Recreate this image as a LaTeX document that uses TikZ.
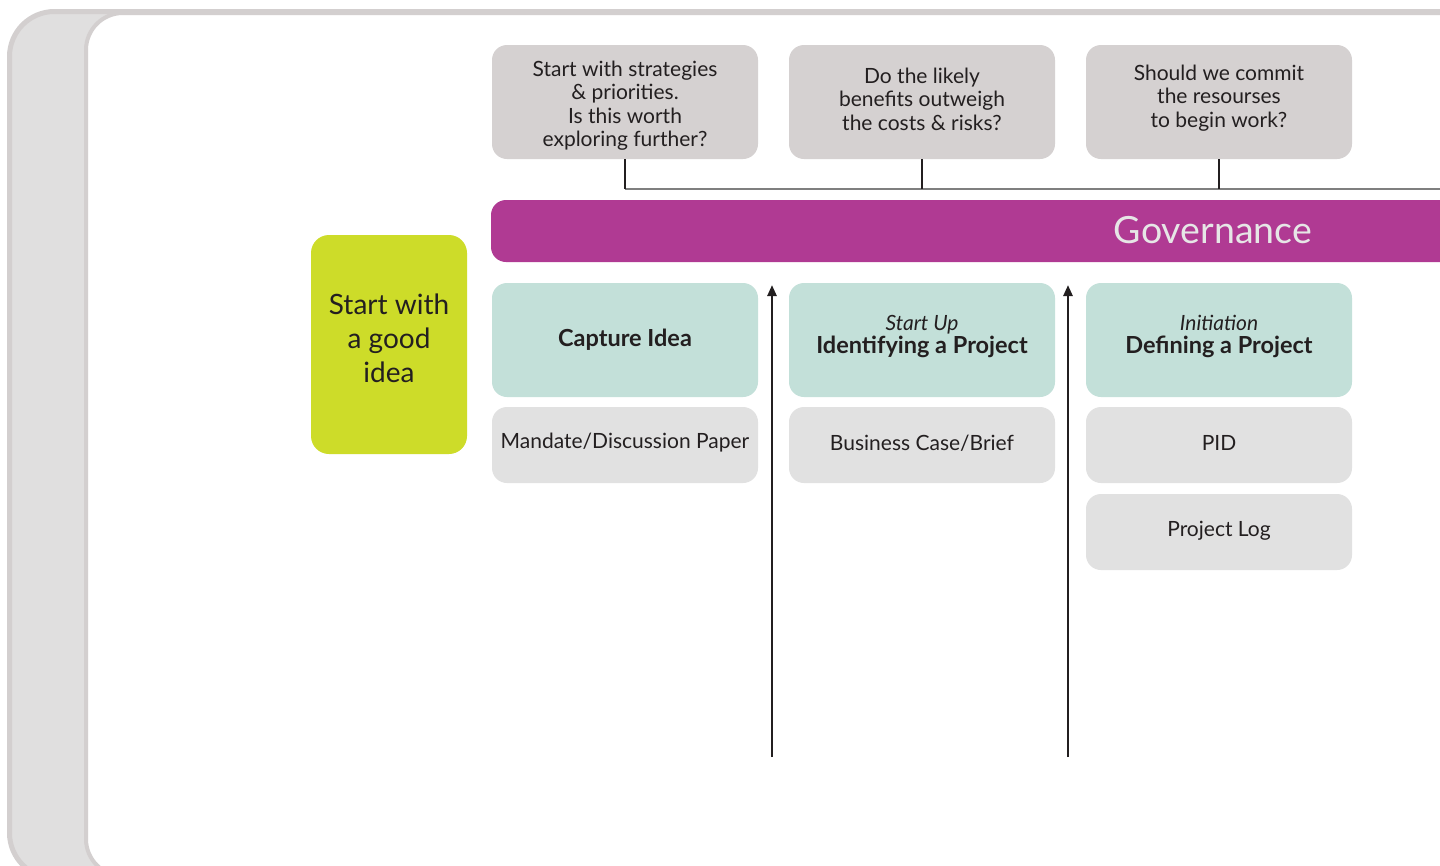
\documentclass[tikz,border=0pt]{standalone}
\usepackage{fontspec}
\setmainfont{Lato}
\usetikzlibrary{arrows.meta}
\definecolor{bgfill}{HTML}{E0DFDF}
\definecolor{bgline}{HTML}{D3CFCF}
\definecolor{qfill}{HTML}{D5D1D1}
\definecolor{govcol}{HTML}{B03A93}
\definecolor{ideacol}{HTML}{CDDC29}
\definecolor{tealcol}{HTML}{C3E0D9}
\definecolor{doccol}{HTML}{E1E1E1}
\definecolor{ink}{HTML}{231F20}
\definecolor{govtext}{HTML}{E6E6E6}
\definecolor{hlinecol}{HTML}{7F7F7F}
\newcommand{\lifted}[2]{\raisebox{#1}[\height][\depth]{#2}}
\newcommand{\liftlines}[2]{\lifted{#1}{\begin{tabular}{@{}c@{}}#2\end{tabular}}}
\newcommand{\phasetitle}[2]{\liftlines{3pt}{{\fontsize{21}{22}\selectfont\itshape #1}\\[-3pt]{\bfseries #2}}}
\begin{document}
\begin{tikzpicture}[x=1pt,y=-1pt,
  qbox/.style={rounded corners=15, fill=qfill, minimum width=266, minimum height=114, inner sep=0, align=center, text=ink, font=\fontsize{21}{23.5}\selectfont},
  phase/.style={rounded corners=15, fill=tealcol, minimum width=266, minimum height=114, inner sep=0, align=center, text=ink, font=\fontsize{23.5}{26}\selectfont},
  docbox/.style={rounded corners=15, fill=doccol, minimum width=266, minimum height=76, inner sep=0, align=center, text=ink, font=\fontsize{21}{24}\selectfont},
  ideabox/.style={rounded corners=18, fill=ideacol, minimum width=156, minimum height=219, inner sep=0, align=center, text=ink, font=\fontsize{28}{34}\selectfont},
  govbar/.style={rounded corners=15, fill=govcol, minimum width=1444, minimum height=62, inner sep=0, text=govtext, font=\fontsize{37.5}{40}\selectfont},
  vline/.style={draw=ink, line width=2.5},
  hline/.style={draw=hlinecol, line width=2},
  arr/.style={draw=ink, line width=2.5, -{Triangle[length=11,width=9]}}
]
\useasboundingbox (0,0) rectangle (1440,865);
% background panels
\path[fill=bgfill, draw=bgline, line width=5, rounded corners=45] (9.5,11.5) rectangle (1520,878);
\path[fill=white, draw=bgline, line width=4, rounded corners=37] (86,13) rectangle (1520,876);

% question boxes
\node[qbox] (q1) at (625,102) {\liftlines{-5pt}{Start with strategies\\\& priorities.\\Is this worth\\exploring further?}};
\node[qbox] (q2) at (922,102) {\liftlines{0pt}{Do the likely\\benefits outweigh\\the costs \& risks?}};
\node[qbox] (q3) at (1219,102) {\liftlines{3pt}{Should we commit\\the resourses\\to begin work?}};

% governance bar
\node[govbar] (gov) at (1213,231) {\lifted{1pt}{Governance}};

% idea
\node[ideabox] (idea) at (389,344.5) {\liftlines{3pt}{Start with\\a good\\idea}};

% phases
\node[phase] (p1) at (625,340) {\textbf{Capture Idea}};
\node[phase] (p2) at (922,340) {\phasetitle{Start Up}{Identifying a Project}};
\node[phase] (p3) at (1219,340) {\phasetitle{Initiation}{Defining a Project}};

% documents
\node[docbox] (d1) at (625,445) {\lifted{2pt}{Mandate/Discussion Paper}};
\node[docbox] (d2) at (922,445) {\lifted{2pt}{Business Case/Brief}};
\node[docbox] (d3) at (1219,445) {\lifted{2pt}{PID}};
\node[docbox] (d4) at (1219,532) {\lifted{1pt}{Project Log}};

% connectors
\coordinate (hend) at (1442,189);
\draw[hline] (q1.south |- hend) -- (hend);
\draw[vline] (q1.south) -- (q1.south |- hend);
\draw[vline] (q2.south) -- (q2.south |- hend);
\draw[vline] (q3.south) -- (q3.south |- hend);

% arrows
\coordinate (a1s) at (772,757);
\coordinate (a1e) at (772,285);
\coordinate (a2s) at (1068,757);
\coordinate (a2e) at (1068,285);
\draw[arr] (a1s) -- (a1e);
\draw[arr] (a2s) -- (a2e);
\end{tikzpicture}
\end{document}
